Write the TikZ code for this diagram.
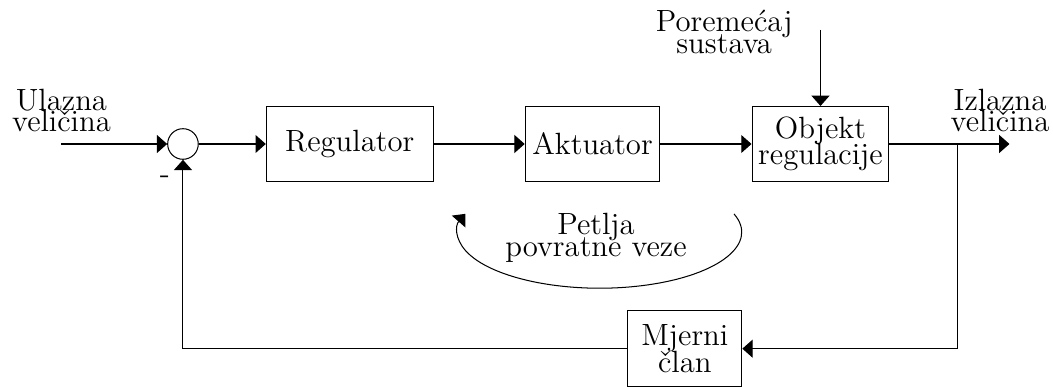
\documentclass[tikz,border=0pt]{standalone}
\usetikzlibrary{positioning,arrows.meta}
\begin{document}
\begin{tikzpicture}[font=\large, >={Triangle[length=4pt,width=7pt]}]
       \tikzstyle{block}=[draw, minimum height=1.03cm, inner sep=2pt, align=center]
       \tikzstyle{sumnode}=[draw, circle, minimum size=0.42cm, inner sep=0pt]
       \tikzstyle{lbl}=[align=center, inner sep=0pt]
       \useasboundingbox (-2.512,-3.336) rectangle (11.944,1.977);
       % main chain
       \node[sumnode] (sum) at (0,0) {};
       \node[block, minimum width=2.29cm, right=0.92cm of sum] (reg) {Regulator};
       \node[block, minimum width=1.85cm, right=1.25cm of reg] (akt) {Aktuator};
       \node[block, minimum width=1.88cm, right=1.25cm of akt] (obj) {Objekt\\[-3.6pt]regulacije};
       \node[block, minimum width=1.565cm, minimum height=1.04cm] (mje) at (6.89,-2.81) {Mjerni\\[-3.6pt]član};
       % labels
       \node[lbl] (ulaz) at (-1.668,0.461) {Ulazna\\[-5.5pt]veličina};
       \node[lbl] (izlaz) at (11.217,0.461) {Izlazna\\[-5.5pt]veličina};
       \node[lbl] (porem) at (7.43,1.534) {Poremećaj\\[-5.5pt]sustava};
       \node[lbl] (petlja) at (5.67,-1.284) {Petlja\\[-5.5pt]povratne veze};
       \node[inner sep=0pt] (minus) at (-0.247,-0.494) {-};
       % free ends
       \coordinate[left=1.455cm of sum.west] (in);
       \coordinate[right=0.934cm of obj.east] (branch);
       \coordinate[right=1.647cm of obj.east] (out);
       \coordinate[above=1.043cm of obj.north] (dist);
       \coordinate (loopstart) at (7.564,-0.959);
       % connectors
       \draw[->] (in) -- (sum.west);
       \draw[->] (sum) -- (reg);
       \draw[->] (reg) -- (akt);
       \draw[->] (akt) -- (obj);
       \draw[->] (obj) -- (out);
       \draw[->] (dist) -- (obj.north);
       \draw[->] (branch) |- (mje.east);
       \draw[->] (mje.west) -| (sum.south);
       \draw[->] (loopstart) arc[start angle=19, end angle=-199, x radius=1.95cm, y radius=0.77cm];
      \end{tikzpicture}
\end{document}
